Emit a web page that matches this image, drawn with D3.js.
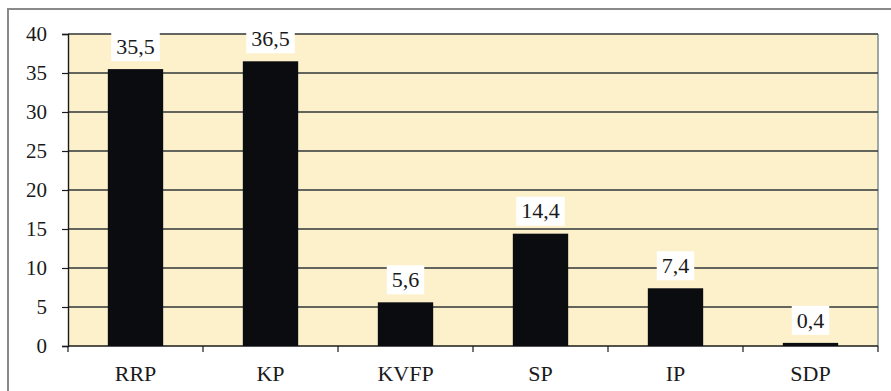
<!DOCTYPE html>
<html>
<head>
<meta charset="utf-8">
<script src="https://cdn.jsdelivr.net/npm/d3@7"></script>
<style>
  html, body { margin: 0; padding: 0; background: #ffffff; }
  svg { display: block; }
</style>
</head>
<body>
<svg id="chart" width="891" height="391"></svg>
<script>
// Party shares
const categories = ["RRP", "KP", "KVFP", "SP", "IP", "SDP"];
const values = [35.5, 36.5, 5.6, 14.4, 7.4, 0.4];
const valueLabels = ["35,5", "36,5", "5,6", "14,4", "7,4", "0,4"];
const yTicks = [0, 5, 10, 15, 20, 25, 30, 35, 40];

const svg = d3.select("#chart");
const font = "'Liberation Serif', 'DejaVu Serif', serif";

const plot = { left: 68, right: 878, top: 34, bottom: 346 };

const x = d3.scaleBand()
  .domain(categories)
  .range([plot.left, plot.right])
  .paddingInner(0.59)
  .paddingOuter(0.295);

const y = d3.scaleLinear()
  .domain([0, 40])
  .range([plot.bottom, plot.top]);

// Outer frame (top and left edges)
svg.append("path")
  .attr("d", `M8,391 L8,9 L891,9`)
  .attr("fill", "none")
  .attr("stroke", "#8a8a8a")
  .attr("stroke-width", 2);

// Plot background
svg.append("rect")
  .attr("x", plot.left)
  .attr("y", plot.top)
  .attr("width", plot.right - plot.left)
  .attr("height", plot.bottom - plot.top)
  .attr("fill", "#fdf1cb");

// Right edge of plot area
svg.append("line")
  .attr("x1", plot.right).attr("x2", plot.right)
  .attr("y1", plot.top).attr("y2", plot.bottom)
  .attr("stroke", "#7d8c90")
  .attr("stroke-width", 1.5);

// Horizontal gridlines
svg.append("g")
  .selectAll("line")
  .data(yTicks.filter(d => d > 0))
  .join("line")
  .attr("x1", plot.left).attr("x2", plot.right)
  .attr("y1", d => y(d)).attr("y2", d => y(d))
  .attr("stroke", "#2f3436")
  .attr("stroke-width", 1.4);

// Y axis
const yAxis = svg.append("g")
  .attr("transform", `translate(${plot.left},0)`)
  .call(d3.axisLeft(y).tickValues(yTicks).tickSize(6).tickPadding(15));
yAxis.select(".domain").attr("stroke", "#1a1a1a").attr("stroke-width", 1.4);
yAxis.selectAll(".tick line").attr("stroke", "#1a1a1a").attr("stroke-width", 1.2);
yAxis.selectAll(".tick text")
  .attr("font-family", font)
  .attr("font-size", 21)
  .attr("fill", "#1a1a1a");

// X axis with ticks at category boundaries
const xAxisG = svg.append("g");
xAxisG.append("line")
  .attr("x1", plot.left).attr("x2", plot.right)
  .attr("y1", plot.bottom).attr("y2", plot.bottom)
  .attr("stroke", "#1a1a1a")
  .attr("stroke-width", 1.4);
const step = x.step();
const boundaries = d3.range(categories.length + 1).map(i => plot.left + i * step);
xAxisG.selectAll("line.tick")
  .data(boundaries)
  .join("line")
  .attr("class", "tick")
  .attr("x1", d => d).attr("x2", d => d)
  .attr("y1", plot.bottom).attr("y2", plot.bottom + 6)
  .attr("stroke", "#1a1a1a")
  .attr("stroke-width", 1.2);
xAxisG.selectAll("text")
  .data(categories)
  .join("text")
  .attr("x", d => x(d) + x.bandwidth() / 2)
  .attr("y", 381)
  .attr("text-anchor", "middle")
  .attr("font-family", font)
  .attr("font-size", 22)
  .attr("fill", "#1a1a1a")
  .text(d => d);

// Bars
svg.append("g")
  .selectAll("rect")
  .data(values)
  .join("rect")
  .attr("x", (d, i) => x(categories[i]))
  .attr("y", d => y(d))
  .attr("width", x.bandwidth())
  .attr("height", d => y(0) - y(d))
  .attr("fill", "#0a0c10");

// Value labels with white backing boxes
const labels = svg.append("g")
  .selectAll("g")
  .data(values)
  .join("g")
  .attr("transform", (d, i) => `translate(${x(categories[i]) + x.bandwidth() / 2},${y(d) - 23})`);

labels.append("rect").attr("fill", "#ffffff");
labels.append("text")
  .attr("text-anchor", "middle")
  .attr("dy", "0.35em")
  .attr("font-family", font)
  .attr("font-size", 22)
  .attr("fill", "#1a1a1a")
  .text((d, i) => valueLabels[i]);

labels.each(function() {
  const g = d3.select(this);
  const bb = g.select("text").node().getBBox();
  g.select("rect")
    .attr("x", bb.x - 5)
    .attr("y", -14)
    .attr("width", bb.width + 10)
    .attr("height", 29);
});
</script>
</body>
</html>
